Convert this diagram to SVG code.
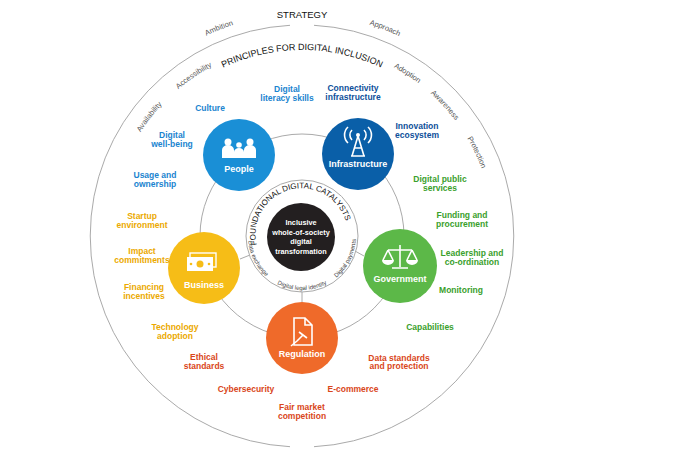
<svg xmlns="http://www.w3.org/2000/svg" width="690" height="460" viewBox="0 0 690 460">
<style>
.ring{fill:none;stroke:#aaa;stroke-width:1}
.lbl{font-family:"Liberation Sans",Arial,sans-serif;font-size:8.5px;font-weight:bold;text-anchor:middle}
.arc{font-family:"Liberation Sans",Arial,sans-serif;font-size:7.5px;fill:#555}
.sm{font-family:"Liberation Sans",Arial,sans-serif;font-size:6px;fill:#444}
.hub{font-family:"Liberation Sans",Arial,sans-serif;font-size:9px;font-weight:bold;fill:#fff;text-anchor:middle}
.core{font-family:"Liberation Sans",Arial,sans-serif;font-size:7.3px;font-weight:bold;fill:#fff;text-anchor:middle}
.pe{fill:#1a84cf}.in{fill:#0d4f9a}.go{fill:#3aa02c}.bu{fill:#eba900}.re{fill:#d9461a}
.ic{fill:#fff}.icl{fill:none;stroke:#fff;stroke-width:1.6}
</style>
<defs>
<path id="pOuter" d="M80,236 A222,222 0 0 1 524,236"/>
<path id="pInner" d="M110,236 A192,192 0 0 1 494,236"/>
<path id="pPrin" d="M116,236 A186,186 0 0 1 488,236"/>
<path id="pFound" d="M257.6,247.9 A46,46 0 1 1 346.4,224.1"/>
<path id="pBot" d="M248,236 A54,54 0 0 0 356,236"/>
</defs>
<rect width="690" height="460" fill="#fff"/>
<g id="frame">
<path class="ring" d="M290,25.3 A211,211 0 0 0 290,446.7"/>
<path class="ring" d="M314,25.3 A211,211 0 0 1 314,446.7"/>
<text x="302" y="18" font-family="Liberation Sans,Arial,sans-serif" font-size="9.5" fill="#111" text-anchor="middle">STRATEGY</text>
<text font-family="Liberation Sans,Arial,sans-serif" font-size="9" fill="#111" text-anchor="middle"><textPath href="#pPrin" startOffset="50%">PRINCIPLES FOR DIGITAL INCLUSION</textPath></text>
<text class="arc" text-anchor="middle"><textPath href="#pOuter" startOffset="37.9%">Ambition</textPath></text>
<text class="arc" text-anchor="middle"><textPath href="#pOuter" startOffset="62.1%">Approach</textPath></text>
<text class="arc" text-anchor="middle"><textPath href="#pInner" startOffset="21.1%">Availability</textPath></text>
<text class="arc" text-anchor="middle"><textPath href="#pInner" startOffset="31.1%">Accessibility</textPath></text>
<text class="arc" text-anchor="middle"><textPath href="#pInner" startOffset="68.3%">Adoption</textPath></text>
<text class="arc" text-anchor="middle"><textPath href="#pInner" startOffset="76.4%">Awareness</textPath></text>
<text class="arc" text-anchor="middle"><textPath href="#pInner" startOffset="85.8%">Protection</textPath></text>
</g>
<g id="connectors">
<circle class="ring" cx="302" cy="236" r="102"/>
<line class="ring" x1="302" y1="291" x2="302" y2="302"/>
<line class="ring" x1="240" y1="259" x2="250" y2="255"/>
<line class="ring" x1="355" y1="251" x2="364" y2="256"/>
</g>
<g id="catalysts">
<circle cx="302" cy="236" r="56" fill="#fff" stroke="#aaa"/>
<text font-family="Liberation Sans,Arial,sans-serif" font-size="8" fill="#111" text-anchor="middle"><textPath href="#pFound" startOffset="50%">FOUNDATIONAL DIGITAL CATALYSTS</textPath></text>
<text class="sm" text-anchor="middle"><textPath href="#pBot" startOffset="15%">Data exchange</textPath></text>
<text class="sm" text-anchor="middle"><textPath href="#pBot" startOffset="50%">Digital legal identity</textPath></text>
<text class="sm" text-anchor="middle"><textPath href="#pBot" startOffset="85%">Digital payments</textPath></text>
</g>
<g id="core">
<circle cx="301" cy="237" r="34" fill="#231f20"/>
<text class="core" x="301" y="225">Inclusive</text>
<text class="core" x="301" y="234.5">whole-of-society</text>
<text class="core" x="301" y="244">digital</text>
<text class="core" x="301" y="253.5">transformation</text>
</g>
<g id="people">
<circle cx="239" cy="155" r="36" fill="#1a8fd6"/>
<circle class="ic" cx="228" cy="142" r="3.5"/><circle class="ic" cx="239" cy="145" r="2.8"/><circle class="ic" cx="250" cy="142" r="3.5"/>
<path class="ic" d="M222,158 v-8 a6,5 0 0 1 12,0 v8z M234,158 v-6 a5,4 0 0 1 10,0 v6z M244,158 v-8 a6,5 0 0 1 12,0 v8z"/>
<text class="hub" x="239" y="172">People</text>
</g>
<g id="infrastructure">
<circle cx="358" cy="154" r="36" fill="#0a5fa8"/>
<path class="icl" d="M358,136 L352,156 M358,136 L364,156 M351,156 h14 M354,148 h8"/>
<circle class="ic" cx="358" cy="135" r="2"/>
<path class="icl" d="M352,130 a7,7 0 0 0 0,10 M364,130 a7,7 0 0 1 0,10 M348,127 a11,11 0 0 0 0,16 M368,127 a11,11 0 0 1 0,16"/>
<text class="hub" x="358" y="167">Infrastructure</text>
</g>
<g id="government">
<circle cx="400" cy="266" r="37" fill="#5cb848"/>
<path class="icl" d="M400,245 v22 M388,250 h24 M392,268 h16"/>
<path class="icl" d="M388,250 l-5,10 M388,250 l5,10 M412,250 l-5,10 M412,250 l5,10"/>
<path class="ic" d="M382,260 h12 a6,5 0 0 1 -12,0z M406,260 h12 a6,5 0 0 1 -12,0z"/>
<text class="hub" x="400" y="282">Government</text>
</g>
<g id="business">
<circle cx="204" cy="268" r="36" fill="#f6bd17"/>
<rect x="190" y="253" width="26" height="14" fill="none" stroke="#fff" stroke-width="1.4"/>
<rect x="187" y="257" width="26" height="14" fill="#fff"/>
<circle cx="200" cy="264" r="3.5" fill="#f6bd17"/><circle cx="191" cy="264" r="1.3" fill="#f6bd17"/><circle cx="209" cy="264" r="1.3" fill="#f6bd17"/>
<text class="hub" x="204" y="288">Business</text>
</g>
<g id="regulation">
<circle cx="302" cy="338" r="36" fill="#ef6a2a"/>
<path class="icl" d="M294,318 h11 l7,7 v20 h-18z M305,318 v7 h7"/>
<path class="icl" d="M299,332 l8,6 M297,341 l6,-6 M291,346 l6,-5" stroke-width="2.5"/>
<text class="hub" x="302" y="357">Regulation</text>
</g>
<g id="labels">
<text class="lbl pe" x="210" y="111">Culture</text>
<text class="lbl pe"><tspan x="287" y="92">Digital</tspan><tspan x="287" y="101">literacy skills</tspan></text>
<text class="lbl pe"><tspan x="172" y="138">Digital</tspan><tspan x="172" y="147">well-being</tspan></text>
<text class="lbl pe"><tspan x="155" y="178">Usage and</tspan><tspan x="155" y="187">ownership</tspan></text>
<text class="lbl in"><tspan x="353" y="91">Connectivity</tspan><tspan x="353" y="100">infrastructure</tspan></text>
<text class="lbl in"><tspan x="417" y="129">Innovation</tspan><tspan x="417" y="138">ecosystem</tspan></text>
<text class="lbl go"><tspan x="440" y="182">Digital public</tspan><tspan x="440" y="191">services</tspan></text>
<text class="lbl go"><tspan x="462" y="218">Funding and</tspan><tspan x="462" y="227">procurement</tspan></text>
<text class="lbl go"><tspan x="472" y="256">Leadership and</tspan><tspan x="472" y="265">co-ordination</tspan></text>
<text class="lbl go" x="461" y="293">Monitoring</text>
<text class="lbl go" x="430" y="330">Capabilities</text>
<text class="lbl bu"><tspan x="142" y="219">Startup</tspan><tspan x="142" y="228">environment</tspan></text>
<text class="lbl bu"><tspan x="142" y="254">Impact</tspan><tspan x="142" y="263">commitments</tspan></text>
<text class="lbl bu"><tspan x="144" y="290">Financing</tspan><tspan x="144" y="299">incentives</tspan></text>
<text class="lbl bu"><tspan x="175" y="330">Technology</tspan><tspan x="175" y="339">adoption</tspan></text>
<text class="lbl re"><tspan x="204" y="360">Ethical</tspan><tspan x="204" y="369">standards</tspan></text>
<text class="lbl re"><tspan x="399" y="361">Data standards</tspan><tspan x="399" y="369">and protection</tspan></text>
<text class="lbl re" x="246" y="392">Cybersecurity</text>
<text class="lbl re" x="353" y="392">E-commerce</text>
<text class="lbl re"><tspan x="302" y="410">Fair market</tspan><tspan x="302" y="419">competition</tspan></text>
</g>
</svg>
